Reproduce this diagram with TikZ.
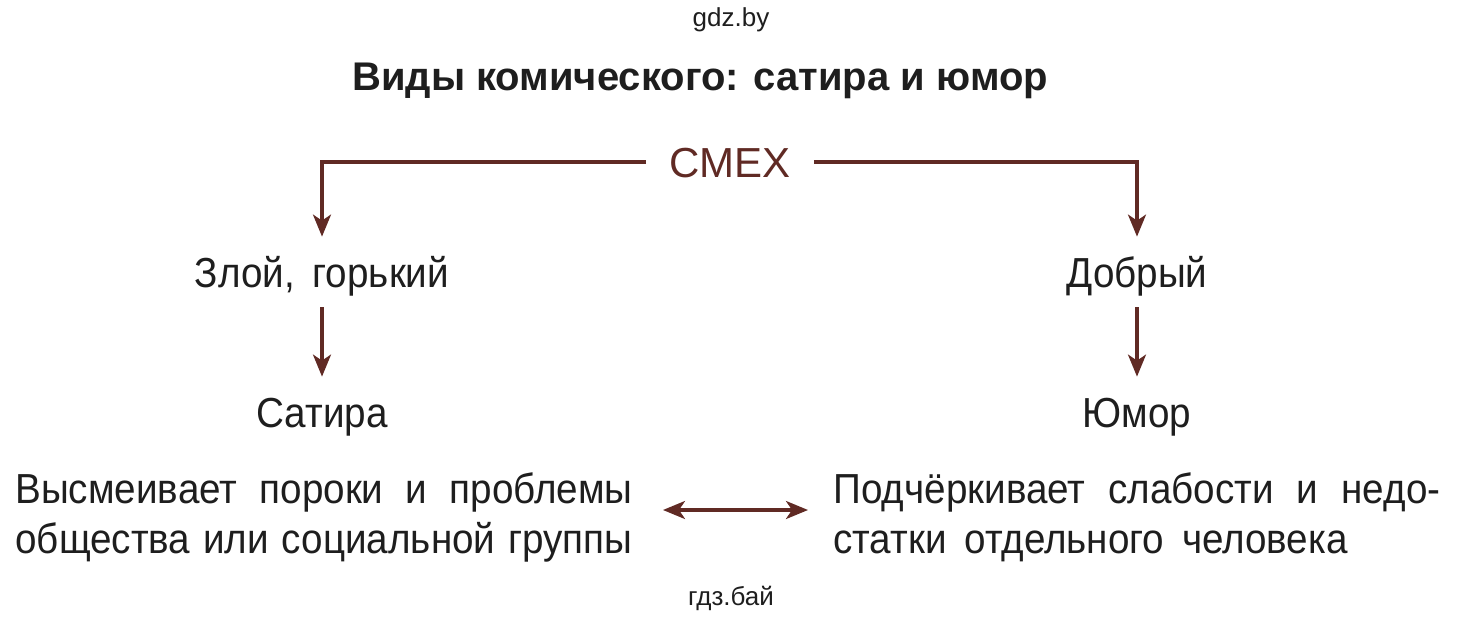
\documentclass[tikz,border=0pt]{standalone}
\usepackage{fontspec}
\setmainfont{Liberation Sans}
\newfontfamily\narrowfont[FakeStretch=0.92]{Liberation Sans}
\usetikzlibrary{arrows.meta}
\definecolor{brn}{RGB}{96,42,36}
\definecolor{txt}{RGB}{30,30,30}
\newcommand\mainfnt{\narrowfont\fontsize{21}{25}\selectfont\spaceskip=8.8pt plus 4pt minus 4pt\relax}
\tikzset{
  x=0.5pt, y=-0.5pt,
  lbl/.style={font=\mainfnt, text=txt, text height=15pt, text depth=0pt, inner xsep=0pt, inner ysep=10pt},
  para/.style={font=\mainfnt, text=txt, align=left, inner sep=0pt, anchor=north west},
  wm/.style={font=\fontsize{13}{15}\selectfont, text=txt},
  arr/.style={draw=brn, line width=1.6pt, -{Stealth[length=11pt, width=9pt, inset=3pt]}},
  darr/.style={draw=brn, line width=1.6pt, {Stealth[length=11pt, width=9pt, inset=3pt]}-{Stealth[length=11pt, width=9pt, inset=3pt]}},
}
\begin{document}
\begin{tikzpicture}
\useasboundingbox (0,0) rectangle (1464,622);
\node[wm] (wm1) at (731,20) {gdz.by};
\node[font=\bfseries\fontsize{20}{24}\selectfont, text=txt] (title) at (700,81) {Виды комического: сатира и юмор};
\node[lbl, font=\fontsize{21}{25}\selectfont, text=brn, inner xsep=11.5pt] (smex) at (730,162) {СМЕХ};
\node[lbl] (zloy) at (322,272) {Злой, горький};
\node[lbl] (dobr) at (1137,272) {Добрый};
\node[lbl] (sat) at (322,412) {Сатира};
\node[lbl] (yum) at (1137,412) {Юмор};
\node[para] (pl) at (15,472) {\makebox[308.5pt][s]{Высмеивает пороки и проблемы}\\\makebox[308.5pt][s]{общества или социальной группы}};
\node[para] (pr) at (833,472) {\makebox[303.5pt][s]{Подчёркивает слабости и недо-}\\статки отдельного человека};
\coordinate (la) at (663,510);
\coordinate (ra) at (808,510);
\node[wm] (wm2) at (731,598) {гдз.бай};
\draw[arr] (smex.west) -| (zloy.north);
\draw[arr] (smex.east) -| (dobr.north);
\draw[arr] (zloy.south) -- (sat.north);
\draw[arr] (dobr.south) -- (yum.north);
\draw[darr] (la) -- (ra);
\end{tikzpicture}
\end{document}
